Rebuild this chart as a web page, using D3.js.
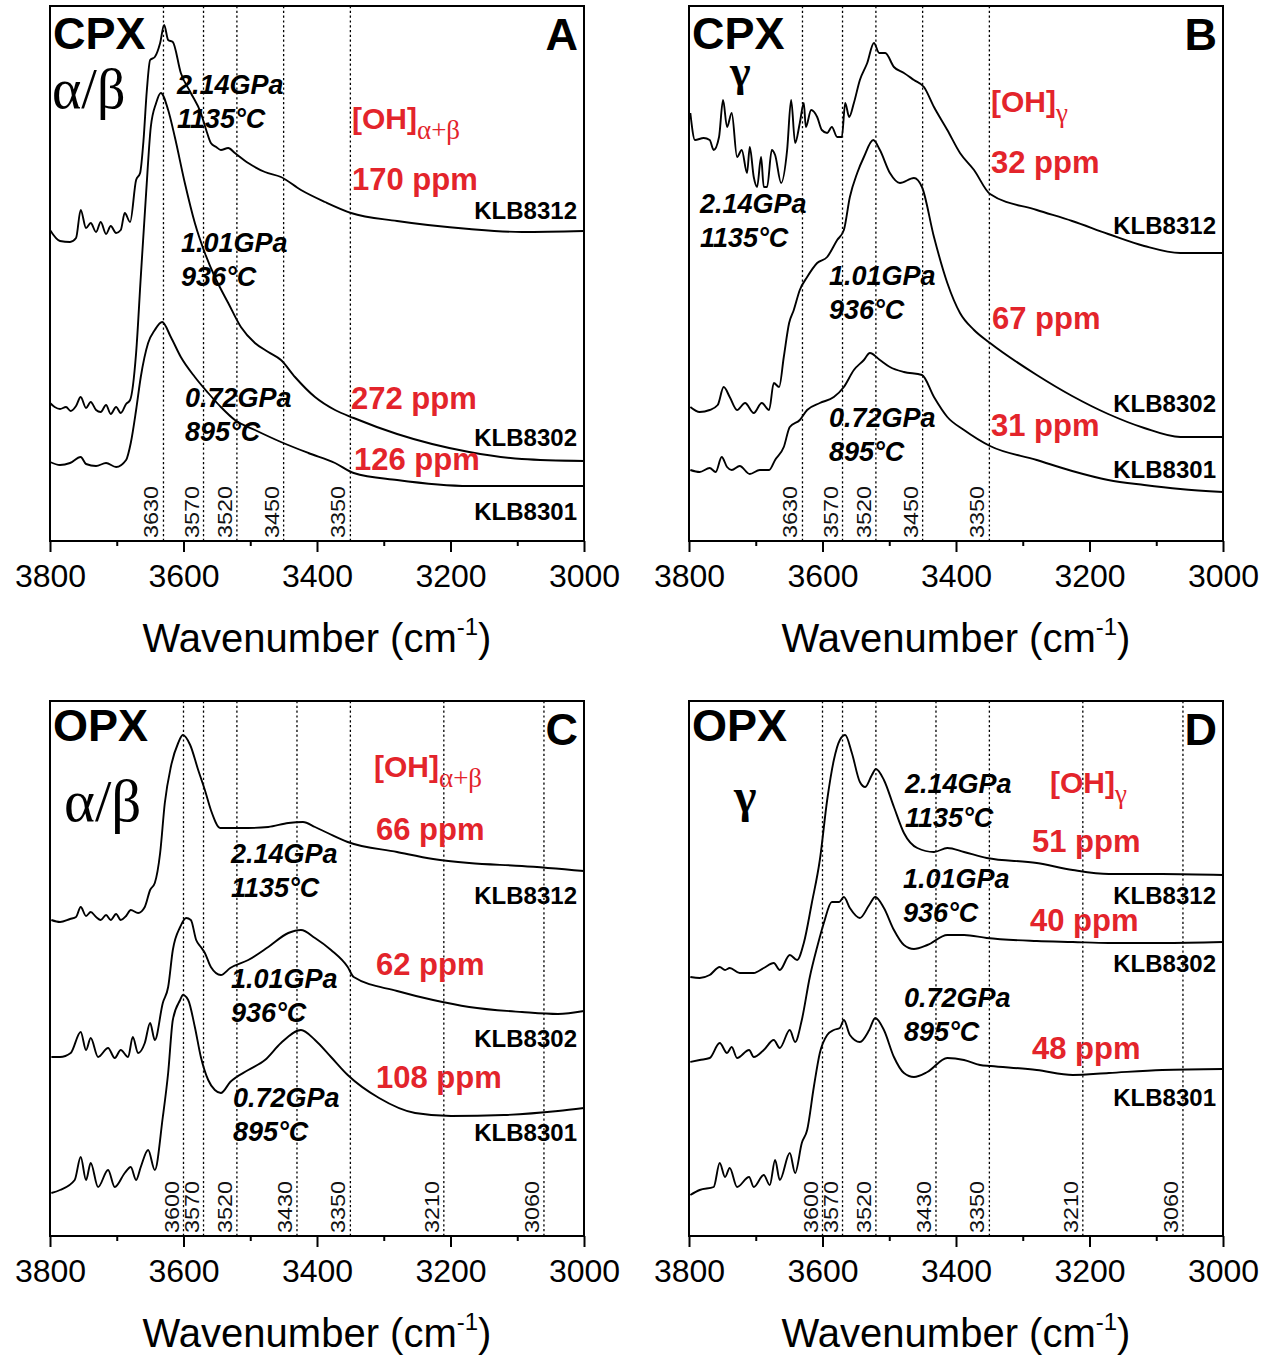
<!DOCTYPE html>
<html><head><meta charset="utf-8">
<script src="https://cdn.jsdelivr.net/npm/d3@7"></script>
<style>body{margin:0;background:#fff}svg{display:block}</style>
</head><body>
<svg id="chart" width="1276" height="1358"></svg>
<script>
// ---------------- DATA ----------------
const xTicks = [3800, 3600, 3400, 3200, 3000];
const xMinorTicks = [3700, 3500, 3300, 3100];
const samples = ["KLB8312", "KLB8302", "KLB8301"];
const conditions = [["2.14GPa", "1135°C"], ["1.01GPa", "936°C"], ["0.72GPa", "895°C"]];
const bandsCpx = [3630, 3570, 3520, 3450, 3350];
const bandsOpx = [3600, 3570, 3520, 3430, 3350, 3210, 3060];
const ohCpxAB = [170, 272, 126];
const ohCpxG = [32, 67, 31];
const ohOpxAB = [66, 62, 108];
const ohOpxG = [51, 40, 48];

// spectra: [wavenumber, absorbance (arb. units, offset)]
const cpxAB_KLB8312 = [[3800,311],[3785,300],[3770,299],[3761,303],[3754,331],[3746,313],[3739,318],[3731,309],[3724,319],[3716,307],[3709,315],[3701,308],[3694,311],[3688,328],[3680,319],[3671,361],[3665,368],[3660,400],[3655,450],[3650,481],[3643,484],[3635,498],[3629,516],[3623,501],[3616,499],[3604,468],[3589,448],[3574,428],[3566,411],[3559,398],[3551,394],[3544,391],[3533,393],[3523,388],[3503,378],[3478,369],[3454,364],[3424,351],[3388,339],[3349,328],[3280,320],[3172,312],[3093,309],[3000,310]];
const cpxAB_KLB8302 = [[3800,138],[3793,134],[3785,132],[3776,134],[3769,130],[3761,135],[3754,144],[3746,133],[3739,139],[3731,131],[3724,129],[3716,136],[3709,127],[3701,134],[3694,128],[3686,137],[3680,141],[3671,188],[3664,264],[3656,348],[3649,414],[3641,438],[3634,448],[3623,431],[3613,404],[3598,358],[3583,318],[3568,288],[3553,264],[3533,238],[3514,214],[3493,198],[3473,189],[3454,181],[3433,164],[3403,144],[3373,131],[3345,123],[3280,107],[3172,89],[3093,82],[3000,80]];
const cpxAB_KLB8301 = [[3800,79],[3785,76],[3770,78],[3754,84],[3746,77],[3731,75],[3716,78],[3701,74],[3686,81],[3679,98],[3671,131],[3664,164],[3653,198],[3643,211],[3632,219],[3619,204],[3604,184],[3583,164],[3563,148],[3544,134],[3523,121],[3493,111],[3454,99],[3413,88],[3373,78],[3345,68],[3280,61],[3172,55],[3000,55]];

const cpxG_KLB8312 = [[3798,428],[3791,401],[3778,403],[3769,401],[3763,391],[3755,404],[3749,441],[3743,414],[3736,428],[3728,384],[3721,391],[3713,368],[3709,394],[3703,364],[3698,354],[3692,384],[3688,354],[3683,354],[3676,391],[3671,386],[3662,358],[3653,391],[3647,441],[3641,398],[3634,418],[3628,438],[3625,414],[3617,431],[3608,424],[3601,411],[3593,408],[3586,414],[3578,404],[3571,404],[3566,438],[3560,424],[3553,438],[3544,461],[3533,478],[3523,498],[3515,488],[3506,488],[3493,474],[3478,468],[3463,461],[3448,454],[3433,434],[3413,411],[3394,388],[3373,371],[3349,347],[3279,331],[3226,320],[3172,307],[3118,295],[3064,288],[3000,288]];
const cpxG_KLB8302 = [[3798,134],[3784,129],[3769,131],[3757,136],[3748,154],[3739,144],[3728,131],[3716,138],[3703,128],[3691,138],[3680,131],[3673,158],[3665,154],[3658,184],[3650,218],[3643,231],[3634,251],[3623,264],[3608,278],[3593,284],[3578,301],[3568,311],[3559,344],[3548,368],[3538,384],[3524,401],[3514,391],[3499,368],[3484,358],[3463,363],[3451,354],[3433,304],[3413,258],[3394,228],[3373,211],[3349,198],[3279,166],[3226,145],[3172,127],[3118,113],[3064,104],[3000,104]];
const cpxG_KLB8301 = [[3798,71],[3784,69],[3769,73],[3760,69],[3751,84],[3743,74],[3736,71],[3724,75],[3709,67],[3694,71],[3680,71],[3671,81],[3658,94],[3649,114],[3634,121],[3623,131],[3604,138],[3583,144],[3568,154],[3553,171],[3538,181],[3529,188],[3514,181],[3499,174],[3478,169],[3451,166],[3433,144],[3413,124],[3388,111],[3349,95],[3279,81],[3226,70],[3172,61],[3118,56],[3064,52],[3000,49]];

const opxAB_KLB8312 = [[3798,316],[3785,314],[3770,317],[3761,319],[3754,329],[3746,320],[3739,324],[3731,319],[3724,316],[3716,321],[3709,316],[3701,322],[3694,316],[3686,320],[3679,326],[3668,323],[3658,329],[3650,346],[3643,353],[3635,383],[3628,433],[3619,469],[3608,493],[3601,501],[3590,491],[3578,466],[3568,446],[3559,426],[3545,408],[3530,408],[3503,408],[3473,409],[3443,413],[3421,414],[3403,409],[3384,403],[3354,394],[3280,384],[3226,377],[3172,373],[3093,370],[3000,365]];
const opxAB_KLB8302 = [[3798,179],[3785,179],[3769,183],[3754,204],[3746,186],[3739,198],[3728,179],[3713,188],[3703,178],[3694,186],[3683,179],[3676,199],[3668,183],[3658,193],[3650,213],[3643,196],[3631,233],[3623,249],[3616,286],[3605,309],[3596,318],[3589,316],[3581,296],[3574,289],[3568,283],[3559,269],[3544,261],[3530,268],[3503,276],[3473,289],[3443,303],[3424,306],[3403,298],[3379,286],[3354,269],[3345,259],[3280,245],[3226,236],[3172,229],[3093,224],[3039,222],[3000,225]];
const opxAB_KLB8301 = [[3798,43],[3785,46],[3763,56],[3754,79],[3746,56],[3739,73],[3728,49],[3713,66],[3703,49],[3688,63],[3679,69],[3671,56],[3664,69],[3653,86],[3643,66],[3631,119],[3623,163],[3616,216],[3605,236],[3601,241],[3593,236],[3583,209],[3574,179],[3563,156],[3553,146],[3544,143],[3530,154],[3503,166],[3478,176],[3454,193],[3424,206],[3403,196],[3379,179],[3354,161],[3307,138],[3253,123],[3199,120],[3120,121],[3039,125],[3000,128]];

const opxG_KLB8312 = [[3798,259],[3784,258],[3769,261],[3754,269],[3746,266],[3739,268],[3724,263],[3703,263],[3688,268],[3673,273],[3664,266],[3649,281],[3638,276],[3628,293],[3616,333],[3604,376],[3593,436],[3583,476],[3574,496],[3566,501],[3556,483],[3544,454],[3536,449],[3526,461],[3520,467],[3508,456],[3493,429],[3478,403],[3458,388],[3433,384],[3413,388],[3388,384],[3354,378],[3279,373],[3225,366],[3171,362],[3091,362],[3000,361]];
const opxG_KLB8302 = [[3798,174],[3784,176],[3769,178],[3754,193],[3743,183],[3736,189],[3728,178],[3710,186],[3703,179],[3688,186],[3673,196],[3664,188],[3649,206],[3641,194],[3631,216],[3619,259],[3608,289],[3598,313],[3586,334],[3575,334],[3568,339],[3559,328],[3544,318],[3530,331],[3521,339],[3508,328],[3493,306],[3478,291],[3463,287],[3443,291],[3413,301],[3388,301],[3354,298],[3279,295],[3225,294],[3171,293],[3091,293],[3000,294]];
const opxG_KLB8301 = [[3798,41],[3784,46],[3763,49],[3754,73],[3746,59],[3739,68],[3728,49],[3710,59],[3703,49],[3688,61],[3679,51],[3671,76],[3664,56],[3649,83],[3641,63],[3631,93],[3623,106],[3613,149],[3604,183],[3593,201],[3583,206],[3574,208],[3568,216],[3559,201],[3544,194],[3530,206],[3521,218],[3508,206],[3493,179],[3478,163],[3463,159],[3443,164],[3413,178],[3388,176],[3364,171],[3348,170],[3279,166],[3225,161],[3171,163],[3091,166],[3000,167]];

// ---------------- LAYOUT ----------------
const SANS = "'Liberation Sans', Arial, sans-serif";
const SERIF = "'Liberation Serif', 'Times New Roman', serif";
const RED = "#e3242b";
const panelW = 534, panelH = 535;

const panels = [
  {letter:"A", left:50, top:6, mineral:"CPX", greek:"α/β", greekSize:56, greekBold:false, greekPos:[2,102], sub:"α+β",
   bands:bandsCpx, series:[cpxAB_KLB8312,cpxAB_KLB8302,cpxAB_KLB8301], ppm:ohCpxAB,
   condPos:[[127,88],[131,246],[135,401]], ohPos:[302,123], ppmPos:[[302,184],[301,403],[304,464]], klbY:[213,440,514]},
  {letter:"B", left:689, top:6, mineral:"CPX", greek:"γ", greekSize:44, greekBold:true, greekPos:[41,80], sub:"γ",
   bands:bandsCpx, series:[cpxG_KLB8312,cpxG_KLB8302,cpxG_KLB8301], ppm:ohCpxG,
   condPos:[[11,207],[140,279],[140,421]], ohPos:[302,106], ppmPos:[[302,167],[303,323],[302,430]], klbY:[228,406,472]},
  {letter:"C", left:50, top:701, mineral:"OPX", greek:"α/β", greekSize:59, greekBold:false, greekPos:[14,120], sub:"α+β",
   bands:bandsOpx, series:[opxAB_KLB8312,opxAB_KLB8302,opxAB_KLB8301], ppm:ohOpxAB,
   condPos:[[181,162],[181,287],[183,406]], ohPos:[324,76], ppmPos:[[326,139],[326,274],[326,387]], klbY:[203,346,440]},
  {letter:"D", left:689, top:701, mineral:"OPX", greek:"γ", greekSize:48, greekBold:true, greekPos:[45,111], sub:"γ",
   bands:bandsOpx, series:[opxG_KLB8312,opxG_KLB8302,opxG_KLB8301], ppm:ohOpxG,
   condPos:[[216,92],[214,187],[215,306]], ohPos:[361,92], ppmPos:[[343,151],[341,230],[343,358]], klbY:[203,271,405]}
];

const svg = d3.select("#chart");
svg.append("rect").attr("width",1276).attr("height",1358).attr("fill","#fff");

panels.forEach(p => {
  const g = svg.append("g").attr("transform", `translate(${p.left},${p.top})`);
  const x = d3.scaleLinear().domain([3800, 3000]).range([0, panelW]);
  const y = d3.scaleLinear().domain([0, 535]).range([panelH, 0]);

  // band lines
  g.selectAll("line.band").data(p.bands).join("line")
    .attr("x1", d => x(d)).attr("x2", d => x(d))
    .attr("y1", 0).attr("y2", panelH)
    .attr("stroke", "#000").attr("stroke-width", 1.3).attr("stroke-dasharray", "2.2,2.6");

  // band labels
  g.selectAll("text.band").data(p.bands).join("text")
    .attr("transform", d => `translate(${x(d) - 5},${panelH - 3}) rotate(-90)`)
    .attr("font-family", SANS).attr("font-size", 21)
    .attr("textLength", 52).attr("lengthAdjust", "spacingAndGlyphs")
    .attr("fill", "#111").text(d => d);

  // spectra
  const line = d3.line().x(d => x(d[0])).y(d => y(d[1])).curve(d3.curveMonotoneX);
  p.series.forEach(s => {
    g.append("path").datum(s).attr("d", line)
      .attr("fill", "none").attr("stroke", "#000").attr("stroke-width", 1.9)
      .attr("stroke-linejoin", "round");
  });

  // mineral + greek + panel letter
  g.append("text").attr("x", 3).attr("y", p.letter === "A" || p.letter === "B" ? 43 : 40)
    .attr("font-family", SANS).attr("font-weight", "bold").attr("font-size", 45).text(p.mineral);
  g.append("text").attr("x", p.greekPos[0]).attr("y", p.greekPos[1])
    .attr("font-family", SERIF).attr("font-size", p.greekSize)
    .attr("font-weight", p.greekBold ? "bold" : "normal").text(p.greek);
  g.append("text").attr("x", 528).attr("y", 44).attr("text-anchor", "end")
    .attr("font-family", SANS).attr("font-weight", "bold").attr("font-size", 45).text(p.letter);

  // conditions
  conditions.forEach((c, i) => {
    const [cx, cy] = p.condPos[i];
    g.append("text").attr("x", cx).attr("y", cy)
      .attr("font-family", SANS).attr("font-weight", "bold").attr("font-style", "italic")
      .attr("font-size", 27).text(c[0]);
    g.append("text").attr("x", cx).attr("y", cy + 34)
      .attr("font-family", SANS).attr("font-weight", "bold").attr("font-style", "italic")
      .attr("font-size", 27).text(c[1]);
  });

  // [OH] label
  const oh = g.append("text").attr("x", p.ohPos[0]).attr("y", p.ohPos[1]).attr("fill", RED);
  oh.append("tspan").attr("font-family", SANS).attr("font-weight", "bold").attr("font-size", 30).text("[OH]");
  oh.append("tspan").attr("font-family", SERIF).attr("font-size", 27).attr("dy", 10).text(p.sub);

  // ppm values
  p.ppm.forEach((v, i) => {
    g.append("text").attr("x", p.ppmPos[i][0]).attr("y", p.ppmPos[i][1])
      .attr("font-family", SANS).attr("font-weight", "bold").attr("font-size", 31)
      .attr("fill", RED).text(`${v} ppm`);
  });

  // sample labels
  samples.forEach((s, i) => {
    g.append("text").attr("x", 527).attr("y", p.klbY[i]).attr("text-anchor", "end")
      .attr("font-family", SANS).attr("font-weight", "bold").attr("font-size", 24).text(s);
  });

  // frame
  g.append("rect").attr("width", panelW).attr("height", panelH)
    .attr("fill", "none").attr("stroke", "#000").attr("stroke-width", 2);

  // axes
  const minor = g.append("g").attr("transform", `translate(0,${panelH})`)
    .call(d3.axisBottom(x).tickValues(xMinorTicks).tickSize(5).tickFormat(""));
  minor.select(".domain").remove();
  minor.selectAll("line").attr("stroke", "#000").attr("stroke-width", 2);

  const major = g.append("g").attr("transform", `translate(0,${panelH})`)
    .call(d3.axisBottom(x).tickValues(xTicks).tickSize(11).tickPadding(12).tickFormat(d3.format("d")));
  major.select(".domain").remove();
  major.selectAll("line").attr("stroke", "#000").attr("stroke-width", 2);
  major.selectAll("text").attr("font-family", SANS).attr("font-size", 32).attr("fill", "#000");

  // axis title
  const t = g.append("text").attr("x", panelW / 2).attr("y", panelH + 111)
    .attr("text-anchor", "middle").attr("font-family", SANS).attr("font-size", 40);
  t.append("tspan").text("Wavenumber (cm");
  t.append("tspan").attr("font-size", 24).attr("dy", -17).text("-1");
  t.append("tspan").attr("dy", 17).text(")");
});
</script>
</body></html>
